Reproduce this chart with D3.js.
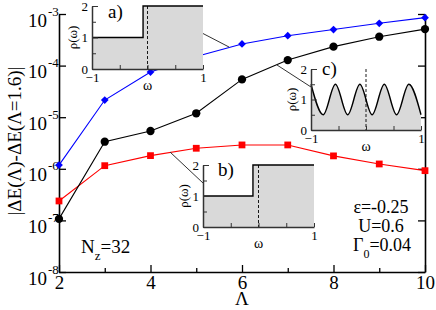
<!DOCTYPE html>
<html><head><meta charset="utf-8">
<script src="https://cdn.jsdelivr.net/npm/d3@7/dist/d3.min.js"></script>
<style>body{margin:0;background:#fff}svg{display:block}svg text{font-family:"Liberation Serif","DejaVu Serif","Times New Roman",Times,serif !important;fill:#000}</style>
</head><body><svg id="c" width="436" height="310" font-family="Liberation Serif"></svg>
<script>
const lambdas = [2,3,4,5,6,7,8,9,10];
const blueVals  = [1.18e-6,2.15e-5,7.5e-5,1.5e-4,2.63e-4,3.8e-4,5.0e-4,6.6e-4,8.5e-4];
const blackVals = [1.07e-7,3.35e-6,5.4e-6,1.19e-5,5.4e-5,1.28e-4,2.33e-4,3.63e-4,5.1e-4];
const redVals   = [2.38e-7,1.15e-6,1.8e-6,2.5e-6,2.9e-6,2.9e-6,1.78e-6,1.24e-6,9.2e-7];
const xTicks = [2,4,6,8,10];
const xMinor = [3,5,7,9];
const yTicks = [1e-8,1e-7,1e-6,1e-5,1e-4,1e-3];
const yExp = ["-8","-7","-6","-5","-4","-3"];
// insets: step positions and cosine extrema
const stepA = -0.08, stepB = -0.1;
const cosOmega = [-1,-0.778,-0.556,-0.333,-0.111,0.111,0.333,0.556,0.778,1];
const cosRho   = [1.5,0.5,1.5,0.5,1.5,0.5,1.5,0.5,1.5,0.5];

const FONT = '"Liberation Serif","DejaVu Serif",serif';
const svg = d3.select("#c");
const L=59,R=425,T=14,B=272;
const x = d3.scaleLinear().domain([2,10]).range([L,R]);
const y = d3.scaleLog().domain([1e-8,1e-3]).range([B,T]);

// axes
const gx = svg.append("g").attr("transform",`translate(0,${B})`)
  .call(d3.axisBottom(x).tickValues(xTicks).tickSize(-7).tickSizeOuter(0).tickFormat(d3.format("d")));
gx.selectAll("text").attr("y",17).attr("dy",0).style("font-size","19px");
svg.append("g").attr("transform",`translate(0,${B})`)
  .call(d3.axisBottom(x).tickValues(xMinor).tickSize(-4).tickSizeOuter(0).tickFormat(""))
  .select(".domain").remove();
const gy = svg.append("g").attr("transform",`translate(${L},0)`)
  .call(d3.axisLeft(y).tickValues(yTicks).tickSize(-7).tickSizeOuter(0).tickFormat(""));
gy.selectAll(".tick").each(function(d,i){
  const g=d3.select(this);
  g.append("text").attr("x",-12).attr("y",12).attr("text-anchor","end").style("font-size","19px").text("10");
  g.append("text").attr("x",-11).attr("y",1).attr("text-anchor","start").style("font-size","13px").text(yExp[i]);
});
svg.append("g").attr("transform",`translate(${R},0)`)
  .call(d3.axisRight(y).tickValues(yTicks).tickSize(-7).tickSizeOuter(0).tickFormat(""));
svg.selectAll(".domain").attr("stroke","#000").attr("stroke-width",1.6);
svg.selectAll(".tick line").attr("stroke","#000").attr("stroke-width",1.3);

// labels
svg.append("text").attr("x",(L+R)/2).attr("y",305).attr("text-anchor","middle").style("font-size","19px").text("Λ");
svg.append("text").attr("transform",`translate(21,${(T+B)/2-2}) rotate(-90)`).attr("text-anchor","middle").style("font-size","19px").text("|ΔE(Λ)-ΔE(Λ=1.6)|");

// data
function series(vals,color,shape,size,rot){
  const pts = lambdas.map((l,i)=>[x(l),y(vals[i])]);
  svg.append("path").attr("d",d3.line()(pts)).attr("fill","none").attr("stroke",color).attr("stroke-width",1.1);
  svg.append("g").selectAll("path").data(pts).join("path")
    .attr("transform",d=>`translate(${d[0]},${d[1]}) rotate(${rot})`)
    .attr("d",d3.symbol().type(shape).size(size)).attr("fill",color);
}
series(redVals,"#ff0000",d3.symbolSquare,46,0);
series(blackVals,"#000",d3.symbolCircle,54,0);
series(blueVals,"#0000ff",d3.symbolSquare,30,45);

// connectors
const conn=[[202,33,229,47],[170,152,203,183],[277,65,311,87]];
svg.append("g").selectAll("line").data(conn).join("line")
  .attr("x1",d=>d[0]).attr("y1",d=>d[1]).attr("x2",d=>d[2]).attr("y2",d=>d[3])
  .attr("stroke","#333").attr("stroke-width",1);

function inset(ox,oy,w,h,pts,curve,lab,labDx,labDy){
  const g=svg.append("g").attr("transform",`translate(${ox},${oy})`);
  const ix=d3.scaleLinear().domain([-1,1]).range([0,w]);
  const iy=d3.scaleLinear().domain([0,2]).range([h,0]);
  g.append("path").attr("d",d3.area().x(d=>ix(d[0])).y0(h).y1(d=>iy(d[1])).curve(curve)(pts)).attr("fill","#d9d9d9");
  g.append("path").attr("d",d3.line().x(d=>ix(d[0])).y(d=>iy(d[1])).curve(curve)(pts)).attr("fill","none").attr("stroke","#000").attr("stroke-width",1.4);
  g.append("line").attr("x1",ix(0)).attr("x2",ix(0)).attr("y1",0).attr("y2",h).attr("stroke","#000").attr("stroke-width",0.9).attr("stroke-dasharray","3,2");
  const ax=g.append("g").attr("transform",`translate(0,${h})`)
    .call(d3.axisBottom(ix).tickValues([-1,-0.5,0,0.5,1]).tickSize(-4).tickSizeOuter(0).tickFormat(d=>(d===-1||d===1)?d3.format("d")(d):""));
  ax.selectAll("text").attr("y",13).attr("dy",0).style("font-size","13px");
  const ay=g.append("g")
    .call(d3.axisLeft(iy).tickValues([0,0.5,1,1.5,2]).tickSize(-4).tickSizeOuter(0).tickFormat(d=>Number.isInteger(d)?d:""));
  ay.selectAll(".tick").filter(d=>Number.isInteger(d)).select("line").attr("x2",6);
  ay.selectAll("text").attr("x",-4).style("font-size","13px");
  g.selectAll(".domain").attr("stroke","#333").attr("stroke-width",1.5);
  g.selectAll(".tick line").attr("stroke","#333");
  g.append("text").attr("x",w/2).attr("y",h+21).attr("text-anchor","middle").style("font-size","14px").text("ω");
  g.append("text").attr("transform",`translate(-15,${h/2}) rotate(-90)`).attr("text-anchor","middle").style("font-size","13px").text("ρ(ω)");
  g.append("text").attr("x",labDx).attr("y",labDy).style("font-size","19px").text(lab);
}
inset(92,6,111,63,[[-1,1],[stepA,1],[stepA,2],[1,2]],d3.curveLinear,"a)",16,12);
inset(203,165,111,62,[[-1,1],[stepB,1],[stepB,2],[1,2]],d3.curveLinear,"b)",15,11);
inset(311,69,110,61,cosOmega.map((o,i)=>[o,cosRho[i]]),d3.curveMonotoneX,"c)",11,6);

// annotations
const nz=svg.append("text").attr("x",81).attr("y",253).style("font-size","19px");
nz.append("tspan").text("N");
nz.append("tspan").attr("dy",7).style("font-size","13px").text("z");
nz.append("tspan").attr("dy",-7).text("=32");
const ann=svg.append("g").style("font-size","18px").attr("text-anchor","middle");
ann.append("text").attr("x",381).attr("y",213).text("ε=-0.25");
ann.append("text").attr("x",381).attr("y",232).text("U=0.6");
const gt=ann.append("text").attr("x",382).attr("y",251);
gt.append("tspan").text("Γ");
gt.append("tspan").attr("dy",7).style("font-size","12px").text("0");
gt.append("tspan").attr("dy",-7).text("=0.04");
svg.selectAll("text").style("font-family",FONT);
</script></body></html>
